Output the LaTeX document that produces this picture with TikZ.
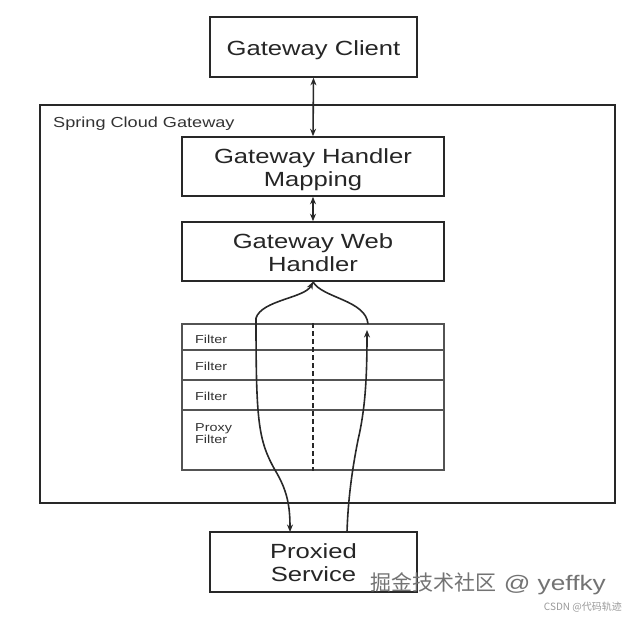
\documentclass[tikz,border=0pt]{standalone}
\usepackage{fontspec}
\setmainfont[FakeStretch=1.25]{Liberation Sans}
\newfontfamily\cjk{Noto Sans CJK SC}
\usetikzlibrary{arrows.meta}
\definecolor{edge}{RGB}{40,40,40}
\newcommand{\lowered}[1]{\raisebox{-3.5pt}[\height][\depth]{#1}}
\newcommand{\twolines}[2]{\lowered{\begin{tabular}{@{}c@{}}#1\\#2\end{tabular}}}
\tikzset{
  box/.style={draw=edge, line width=1.6pt, fill=white, inner sep=0pt, align=center,
    font=\fontsize{20.5}{23}\selectfont, text=black!85},
  row/.style={draw=edge!80, line width=1.3pt, inner sep=0pt, minimum width=262pt},
  lbl/.style={anchor=west, inner sep=0pt, font=\fontsize{11.5}{12.5}\selectfont, align=left, text=black!80},
  conn/.style={draw=edge, line width=1.6pt},
  tip/.style={-{Stealth[length=7.5pt,width=6pt]}}
}
\begin{document}
\begin{tikzpicture}[x=1pt,y=-1pt]
\useasboundingbox (0,0) rectangle (628,619);
\node[draw=edge, line width=1.6pt, minimum width=575pt, minimum height=398pt, inner sep=0pt] (outer) at (327.5,304) {};
\node[anchor=west, inner sep=0pt, font=\fontsize{14.5}{15}\selectfont, text=black!80] (sname) at (53,123.5) {Spring Cloud Gateway};
\node[box, minimum width=207pt, minimum height=60pt] (client) at (313.5,47) {\lowered{Gateway Client}};
\node[box, minimum width=262pt, minimum height=59pt] (mapping) at (313,166.5) {\twolines{Gateway Handler}{Mapping}};
\node[box, minimum width=262pt, minimum height=59pt] (web) at (313,251.5) {\twolines{Gateway Web}{Handler}};
\node[row, minimum height=26pt] (f1) at (313,337) {};
\node[row, minimum height=30pt] (f2) at (313,365) {};
\node[row, minimum height=30pt] (f3) at (313,395) {};
\node[row, minimum height=60pt] (f4) at (313,440) {};
\node[lbl] (l1) at (195,339.5) {Filter};
\node[lbl] (l2) at (195,366.5) {Filter};
\node[lbl] (l3) at (195,396.5) {Filter};
\node[lbl, anchor=north west] (l4) at (195,423) {Proxy\\Filter};
\draw[edge, line width=1.3pt, dashed, dash pattern=on 5pt off 3pt] (f1.north) -- (f4.south);
\node[box, minimum width=207pt, minimum height=60pt] (proxied) at (313.5,562) {\twolines{Proxied}{Service}};
\draw[conn, {Stealth[length=7.5pt,width=6pt]}-{Stealth[length=7.5pt,width=6pt]}] (client.south) -- (mapping.north);
\draw[conn, {Stealth[length=7.5pt,width=6pt]}-{Stealth[length=7.5pt,width=6pt]}] (mapping.south) -- (web.north);
\coordinate (lt) at (256,318);
\coordinate (rt) at (368,324);
\coordinate (rtop) at (367,330);
\coordinate (pl) at (290,532);
\coordinate (pr) at (347,532);
\draw[conn, tip] (lt) .. controls (262,300) and (305,298) .. (web.south);
\draw[conn] (rt) .. controls (366,300) and (322,298) .. (web.south);
\draw[conn, tip] (lt) .. controls (256,420) and (258,440) .. (275,470) .. controls (287,490) and (290,505) .. (pl);
\draw[conn, tip] (pr) .. controls (348,500) and (352,470) .. (358,440) .. controls (365,410) and (367,380) .. (rtop);
\node[anchor=east, inner sep=0pt, text=black!55, font=\fontsize{21}{24}\selectfont] (wm) at (606,584) {{\cjk 掘金技术社区} @ yeffky};
\node[anchor=east, inner sep=0pt, text=black!40, font=\cjk\fontsize{10}{11}\selectfont] (csdn) at (622,607) {CSDN @代码轨迹};
\end{tikzpicture}
\end{document}
